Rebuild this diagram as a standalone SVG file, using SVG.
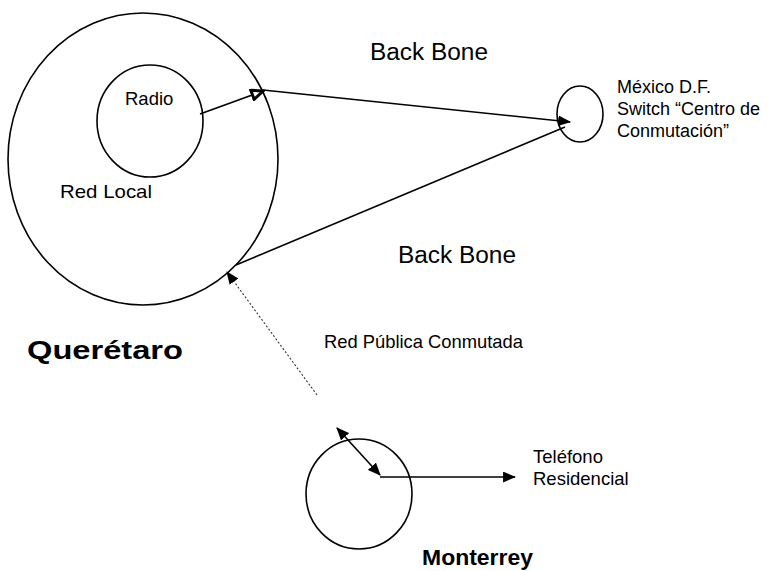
<svg xmlns="http://www.w3.org/2000/svg" width="767" height="571" viewBox="0 0 767 571">
<defs>
<style>
.shape{fill:none;stroke:#000;stroke-width:1.6}
.ln{fill:none;stroke:#000;stroke-width:1.6}
.dot{fill:none;stroke:#333;stroke-width:1.1;stroke-dasharray:2 2}
.t{font-family:"Liberation Sans",Arial,sans-serif;font-size:18.5px;fill:#000}
.bb{font-family:"Liberation Sans",Arial,sans-serif;font-size:23.5px;fill:#000}
.b{font-family:"Liberation Sans",Arial,sans-serif;font-weight:bold;fill:#000}
.s{font-family:"Liberation Sans",Arial,sans-serif;font-size:18px;fill:#000}
</style>
<marker id="arr" viewBox="0 0 12 10" refX="11" refY="5" markerWidth="13" markerHeight="11" markerUnits="userSpaceOnUse" orient="auto-start-reverse">
<path d="M0,0 L12,5 L0,10 z" fill="#000"/>
</marker>
<marker id="open" viewBox="0 0 14 12" refX="12" refY="6" markerWidth="15" markerHeight="13" markerUnits="userSpaceOnUse" orient="auto">
<path d="M1.5,1.5 L12,6 L1.5,10.5 z" fill="#fff" stroke="#000" stroke-width="2.8"/>
</marker>
</defs>
<rect width="767" height="571" fill="#fff"/>
<g id="queretaro">
<ellipse class="shape" cx="143" cy="159" rx="135" ry="146"/>
<text class="t" x="60" y="198" textLength="92" lengthAdjust="spacingAndGlyphs">Red Local</text>
<text class="b" x="27" y="359" font-size="26" textLength="156" lengthAdjust="spacingAndGlyphs">Querétaro</text>
</g>
<g id="radio">
<ellipse class="shape" cx="150" cy="121" rx="53" ry="56"/>
<text class="t" x="125" y="105">Radio</text>
</g>
<g id="mexico">
<ellipse class="shape" cx="580" cy="114" rx="23" ry="28"/>
<text class="s" x="617" y="93">México D.F.</text>
<text class="s" x="617" y="115">Switch “Centro de</text>
<text class="s" x="617" y="137">Conmutación”</text>
</g>
<g id="monterrey">
<ellipse class="shape" cx="359" cy="494" rx="53" ry="55"/>
<text class="b" x="422" y="565" font-size="22" textLength="111" lengthAdjust="spacingAndGlyphs">Monterrey</text>
</g>
<g id="telefono">
<text class="t" x="533" y="463">Teléfono</text>
<text class="t" x="533" y="485">Residencial</text>
</g>
<g id="labels">
<text class="bb" x="370" y="60" textLength="118" lengthAdjust="spacingAndGlyphs">Back Bone</text>
<text class="bb" x="398" y="263" textLength="118" lengthAdjust="spacingAndGlyphs">Back Bone</text>
<text class="t" x="324" y="348" textLength="199" lengthAdjust="spacingAndGlyphs">Red Pública Conmutada</text>
</g>
<g id="connectors">
<path class="ln" d="M200,114 L263,91" marker-end="url(#open)"/>
<path class="ln" d="M263,90 L570,122" marker-end="url(#arr)"/>
<path class="ln" d="M565,127 L236,265"/>
<path class="dot" d="M317,395 L227,272" marker-end="url(#arr)"/>
<path class="ln" d="M337,428 L380,475" marker-start="url(#arr)" marker-end="url(#arr)"/>
<path class="ln" d="M380,477 L515,477" marker-end="url(#arr)"/>
</g>
</svg>
